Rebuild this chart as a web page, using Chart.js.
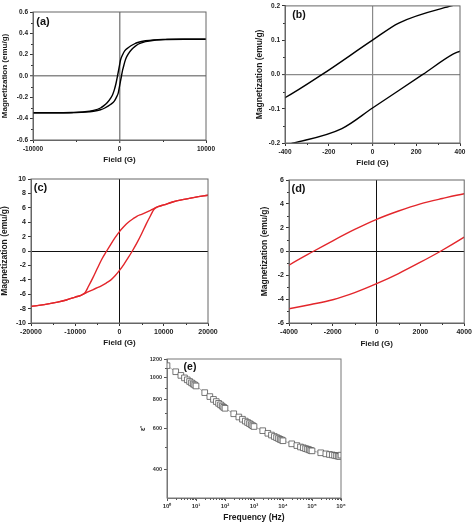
<!DOCTYPE html>
<html><head><meta charset="utf-8">
<script src="https://cdn.jsdelivr.net/npm/chart.js@4.4.1/dist/chart.umd.min.js"></script>
<style>
html,body{margin:0;padding:0;background:#fff;width:474px;height:523px;overflow:hidden}
canvas{position:absolute;left:0;top:0}
</style></head><body>
<canvas id="ca" width="474" height="523"></canvas>
<canvas id="cb" width="474" height="523"></canvas>
<canvas id="cc" width="474" height="523"></canvas>
<canvas id="cd" width="474" height="523"></canvas>
<canvas id="ce" width="474" height="523"></canvas>
<script>
// ---- Data: panels (a) and (b) (same loop, (b) is a zoom) ----
const smallDescField = [10000, 7000, 5000, 4000, 3000, 2200, 1700, 1000, 600, 360, 120, 0, -230, -400, -600, -800, -1000, -1400, -1800, -2200, -3000, -4000, -5500, -7500, -10000];
const smallDescM     = [0.345, 0.345, 0.343, 0.339, 0.330, 0.316, 0.300, 0.265, 0.235, 0.200, 0.150, 0.100, 0.000, -0.068, -0.130, -0.175, -0.205, -0.248, -0.278, -0.300, -0.322, -0.335, -0.342, -0.345, -0.345];
const smallAscField  = [-10000, -7000, -5000, -4000, -3000, -2200, -1700, -1000, -600, -360, -140, 0, 230, 370, 400, 600, 800, 1000, 1400, 1800, 2200, 3000, 4000, 5500, 7500, 10000];
const smallAscM      = [-0.345, -0.345, -0.343, -0.339, -0.330, -0.316, -0.300, -0.265, -0.235, -0.200, -0.158, -0.098, 0.000, 0.060, 0.068, 0.130, 0.175, 0.205, 0.248, 0.278, 0.300, 0.322, 0.335, 0.342, 0.345, 0.345];

// ---- Data: panels (c) and (d) (same loop, (d) is a zoom) ----
const bigDescField = [20000, 17000, 14000, 12000, 10000, 8700, 7000, 5000, 4000, 3000, 2000, 1000, 0, -1000, -2000, -2900, -4000, -5000, -6000, -7000, -7800, -8700, -10000, -12000, -14000, -17000, -20000];
const bigDescM     = [7.75, 7.45, 7.10, 6.80, 6.40, 6.15, 5.65, 5.10, 4.85, 4.45, 4.00, 3.40, 2.70, 1.85, 0.90, 0.00, -1.15, -2.40, -3.70, -4.90, -5.80, -6.15, -6.40, -6.80, -7.10, -7.45, -7.70];
const bigAscField  = [-20000, -17000, -14000, -12000, -10000, -8700, -7000, -5000, -4000, -3000, -2000, -1000, 0, 1000, 2000, 2900, 4000, 5000, 6000, 7000, 7800, 8700, 10000, 12000, 14000, 17000, 20000];
const bigAscM      = [-7.70, -7.45, -7.10, -6.80, -6.40, -6.15, -5.65, -5.10, -4.80, -4.45, -4.05, -3.45, -2.70, -1.85, -0.90, 0.00, 1.20, 2.40, 3.70, 4.90, 5.80, 6.15, 6.40, 6.80, 7.10, 7.45, 7.75];

// ---- Data: panel (e) ----
const freqHz = [1,2,3,4,5,6,7,8,9, 10,20,30,40,50,60,70,80,90, 100,200,300,400,500,600,700,800,900, 1000,2000,3000,4000,5000,6000,7000,8000,9000, 10000,20000,30000,40000,50000,60000,70000,80000,90000, 100000,200000,300000,400000,500000,600000,700000,800000,900000, 1000000];
const epsReal = [1123,1057,1019,994,975,959,946,935,926, 917,858,825,802,785,771,760,750,741, 734,695,673,658,646,637,630,623,617, 612,587,572,562,554,548,543,538,535, 531,515,506,499,495,491,488,485,482, 480,471,466,463,461,459,457,455,454, 460];

// ---- Ticks ----
const aXTicks = [-10000, 0, 10000], aXMinor = [-5000, 5000];
const aYTicks = [-0.6, -0.4, -0.2, 0, 0.2, 0.4, 0.6], aYMinor = [-0.5, -0.3, -0.1, 0.1, 0.3, 0.5];
const bXTicks = [-400, -200, 0, 200, 400], bXMinor = [-300, -100, 100, 300];
const bYTicks = [-0.2, -0.1, 0, 0.1, 0.2], bYMinor = [-0.15, -0.05, 0.05, 0.15];
const cXTicks = [-20000, -10000, 0, 10000, 20000], cXMinor = [-15000, -5000, 5000, 15000];
const cYTicks = [-10, -8, -6, -4, -2, 0, 2, 4, 6, 8, 10], cYMinor = [];
const dXTicks = [-4000, -2000, 0, 2000, 4000], dXMinor = [-3000, -1000, 1000, 3000];
const dYTicks = [-6, -4, -2, 0, 2, 4, 6], dYMinor = [-5, -3, -1, 1, 3, 5];
const eXTicks = [1, 10, 100, 1000, 10000, 100000, 1000000];
const eXLabels = ['10\u2070', '10\u00b9', '10\u00b2', '10\u00b3', '10\u2074', '10\u2075', '10\u2076'];
const eXMinor = [2,3,4,5,6,7,8,9,20,30,40,50,60,70,80,90,200,300,400,500,600,700,800,900,2000,3000,4000,5000,6000,7000,8000,9000,20000,30000,40000,50000,60000,70000,80000,90000,200000,300000,400000,500000,600000,700000,800000,900000];
const eYTicks = [400, 600, 800, 1000, 1200], eYMinor = [500, 700, 900, 1100];

const FONT = '"Liberation Sans", Arial, Helvetica, sans-serif';

const panelPlugin = {
  id: 'panel',
  afterDraw(chart, args, o) {
    const {ctx, chartArea: a, scales} = chart;
    ctx.save();
    ctx.strokeStyle = o.tickColor; ctx.lineWidth = 1;
    (o.minorX || []).forEach(v => {
      const px = Math.round(scales.x.getPixelForValue(v)) + 0.5;
      ctx.beginPath(); ctx.moveTo(px, a.bottom); ctx.lineTo(px, a.bottom + 2); ctx.stroke();
    });
    (o.minorY || []).forEach(v => {
      const py = Math.round(scales.y.getPixelForValue(v)) + 0.5;
      ctx.beginPath(); ctx.moveTo(a.left, py); ctx.lineTo(a.left - 2, py); ctx.stroke();
    });
    ctx.strokeStyle = o.frameColor; ctx.lineWidth = o.frameWidth || 1;
    ctx.strokeRect(a.left, a.top, a.right - a.left, a.bottom - a.top);
    ctx.fillStyle = '#111';
    ctx.font = 'bold ' + o.labelSize + 'px ' + FONT;
    ctx.textAlign = 'center'; ctx.textBaseline = 'middle';
    ctx.fillText(o.label, a.left + o.lx, a.top + o.ly);
    ctx.restore();
  }
};

function axis(o) {
  return {
    type: o.type || 'linear', position: o.pos, min: o.min, max: o.max,
    afterBuildTicks: s => { s.ticks = o.ticks.map(v => ({value: v})); },
    afterFit: s => { if (o.pos === 'left') s.width = o.size; else s.height = o.size; },
    ticks: { autoSkip: false, maxRotation: 0, minRotation: 0, padding: o.tpad == null ? 2 : o.tpad, color: o.tcol || '#222',
      font: {family: FONT, size: o.fs, weight: 'bold'}, callback: o.fmt },
    grid: { drawOnChartArea: true, drawTicks: true, tickLength: 3, tickWidth: 1, tickColor: o.tickColor || '#333',
      color: c => (c.tick && Math.abs(c.tick.value) < 1e-9 && o.zero) ? o.zero : 'rgba(0,0,0,0)',
      lineWidth: c => (c.tick && Math.abs(c.tick.value) < 1e-9) ? (o.zeroW || 1) : 1 },
    border: { display: true, color: o.frame, width: 1 },
    title: { display: true, text: o.title, color: '#1a1a1a', padding: 0,
      font: {family: FONT, size: o.tfs, weight: 'bold', lineHeight: 1.2} }
  };
}

function pts(xs, ys) { return xs.map((x, i) => ({x: x, y: ys[i]})); }

function loopChart(id, p) {
  return new Chart(document.getElementById(id), {
    type: 'scatter',
    data: { datasets: [
      { data: pts(p.f1, p.m1), showLine: true, borderColor: p.color, borderWidth: p.lw, pointRadius: 0, cubicInterpolationMode: 'monotone' },
      { data: pts(p.f2, p.m2), showLine: true, borderColor: p.color, borderWidth: p.lw, pointRadius: 0, cubicInterpolationMode: 'monotone' }
    ]},
    options: {
      responsive: false, animation: false, events: [],
      layout: { padding: p.pad },
      plugins: { legend: {display: false}, tooltip: {enabled: false},
        panel: { label: p.label, lx: p.lx, ly: p.ly, labelSize: p.labelSize, frameColor: p.frame, tickColor: '#333', minorX: p.minorX, minorY: p.minorY } },
      scales: {
        x: axis({pos: 'bottom', min: p.xmin, max: p.xmax, ticks: p.xt, size: p.xh, fs: p.fs, tfs: p.tfs, title: 'Field (G)', fmt: v => String(v), zero: p.zero, zeroW: p.zeroW, frame: p.frame }),
        y: axis({pos: 'left', min: p.ymin, max: p.ymax, ticks: p.yt, size: p.yw, fs: p.fs, tfs: p.ytfs || p.tfs, title: 'Magnetization (emu/g)', fmt: p.yfmt, zero: p.zero, zeroW: p.zeroW, frame: p.frame })
      }
    },
    plugins: [panelPlugin]
  });
}

const fmt1 = v => v.toFixed(1);
const fmt0 = v => String(v);

// (a)
loopChart('ca', { f1: smallDescField, m1: smallDescM, f2: smallAscField, m2: smallAscM, color: '#000', lw: 1.4,
  pad: {left: 0, top: 12, right: 268, bottom: 358}, xh: 25, yw: 33,
  xmin: -10000, xmax: 10000, ymin: -0.6, ymax: 0.6, xt: aXTicks, yt: aYTicks, minorX: aXMinor, minorY: aYMinor,
  fs: 6.5, tfs: 8, yfmt: fmt1, zero: '#8a8a8a', zeroW: 1.5, frame: '#666', label: '(a)', lx: 10, ly: 10, labelSize: 11 });
// (b)
loopChart('cb', { f1: smallDescField, m1: smallDescM, f2: smallAscField, m2: smallAscM, color: '#000', lw: 1.4,
  pad: {left: 255, top: 3, right: 14, bottom: 355}, xh: 25, yw: 30,
  xmin: -400, xmax: 400, ymin: -0.2, ymax: 0.2, xt: bXTicks, yt: bYTicks, minorX: bXMinor, minorY: bYMinor,
  fs: 6.5, tfs: 8, ytfs: 8.5, yfmt: fmt1, zero: '#8a8a8a', zeroW: 1.2, frame: '#666', label: '(b)', lx: 14, ly: 9.5, labelSize: 10.5 });
// (c)
loopChart('cc', { f1: bigDescField, m1: bigDescM, f2: bigAscField, m2: bigAscM, color: '#e3262b', lw: 1.4,
  pad: {left: 0, top: 179, right: 266, bottom: 175}, xh: 25, yw: 31,
  xmin: -20000, xmax: 20000, ymin: -10, ymax: 10, xt: cXTicks, yt: cYTicks, minorX: cXMinor, minorY: cYMinor,
  fs: 7, tfs: 8, ytfs: 8.5, yfmt: fmt0, zero: '#111', zeroW: 1, frame: '#666', label: '(c)', lx: 9.5, ly: 9, labelSize: 11 });
// (d)
loopChart('cd', { f1: bigDescField, m1: bigDescM, f2: bigAscField, m2: bigAscM, color: '#e3262b', lw: 1.4,
  pad: {left: 260, top: 180, right: 7, bottom: 174}, xh: 26, yw: 29,
  xmin: -4000, xmax: 4000, ymin: -6, ymax: 6, xt: dXTicks, yt: dYTicks, minorX: dXMinor, minorY: dYMinor,
  fs: 7, tfs: 8, ytfs: 8.5, yfmt: fmt0, zero: '#111', zeroW: 1, frame: '#666', label: '(d)', lx: 9.5, ly: 8.5, labelSize: 11 });

// (e)
new Chart(document.getElementById('ce'), {
  type: 'scatter',
  data: { datasets: [{ data: pts(freqHz, epsReal), showLine: true, borderColor: '#a0a0a0', borderWidth: 0.8,
    pointStyle: 'rect', pointRadius: 4, pointBorderColor: '#555', pointBackgroundColor: '#fff', pointBorderWidth: 0.8 }] },
  options: {
    responsive: false, animation: false, events: [],
    layout: { padding: {left: 139, top: 359, right: 133, bottom: 0} },
    plugins: { legend: {display: false}, tooltip: {enabled: false},
      panel: { label: '(e)', lx: 23, ly: 8.5, labelSize: 10.5, frameColor: '#777', tickColor: '#555', minorX: eXMinor, minorY: eYMinor } },
    scales: {
      x: axis({type: 'logarithmic', pos: 'bottom', min: 1, max: 1000000, ticks: eXTicks, size: 25, fs: 6, tfs: 8.5,
        title: 'Frequency (Hz)', fmt: (v, i) => eXLabels[i], frame: '#777', tcol: '#333', tickColor: '#555' }),
      y: axis({type: 'logarithmic', pos: 'left', min: 300, max: 1200, ticks: eYTicks, size: 28, fs: 5.5, tfs: 7,
        title: "\u03b5'", fmt: v => String(v), frame: '#777', tcol: '#333', tickColor: '#555' })
    }
  },
  plugins: [panelPlugin]
});
</script>
</body></html>
